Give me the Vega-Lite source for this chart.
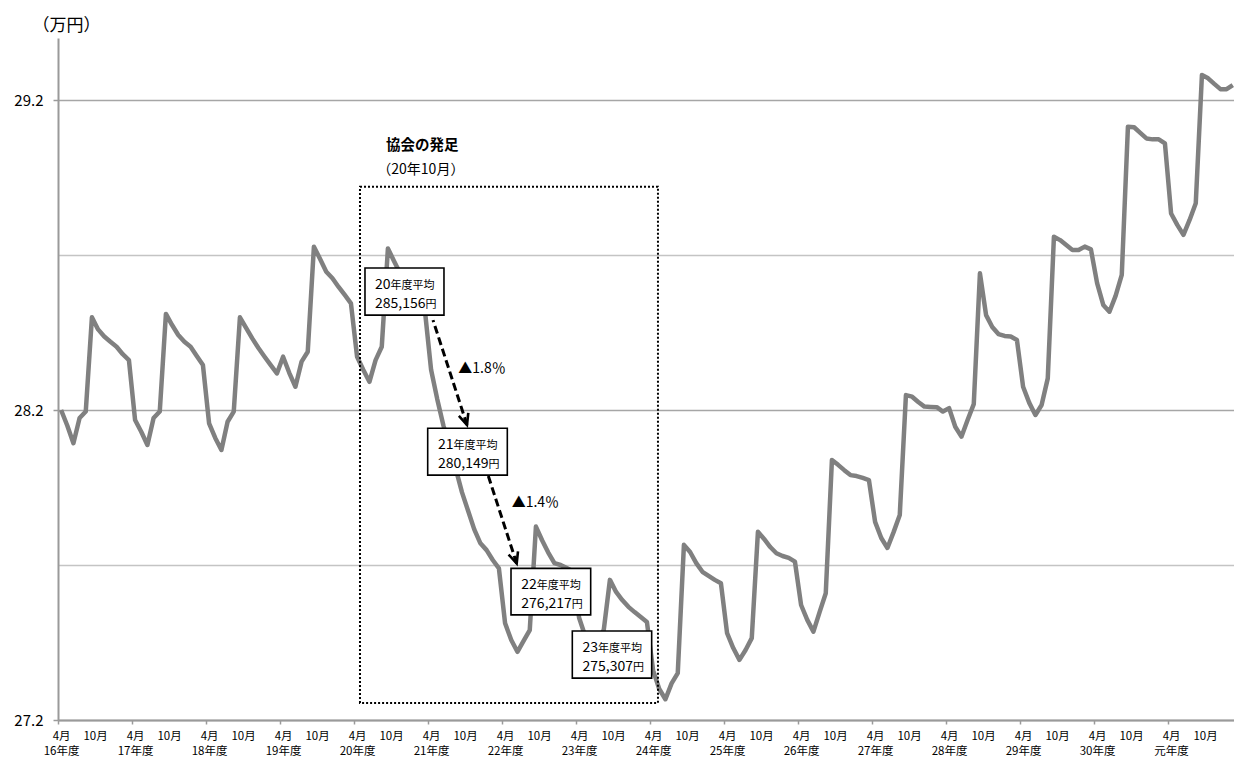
{
  "$schema": "https://vega.github.io/schema/vega-lite/v6.json",
  "width": 1176,
  "height": 682,
  "autosize": {"type": "none"},
  "padding": {"left": 58, "top": 38, "right": 0, "bottom": 41},
  "background": "white",
  "config": {"view": {"stroke": null}, "font": "Noto Sans CJK JP"},
  "datasets": {
    "series": [
      {"month":0,"value":28.200},{"month":1,"value":28.150},{"month":2,"value":28.093},{"month":3,"value":28.174},{"month":4,"value":28.195},{"month":5,"value":28.499},{"month":6,"value":28.460},{"month":7,"value":28.437},{"month":8,"value":28.420},{"month":9,"value":28.404},{"month":10,"value":28.380},{"month":11,"value":28.361},
      {"month":12,"value":28.168},{"month":13,"value":28.130},{"month":14,"value":28.087},{"month":15,"value":28.174},{"month":16,"value":28.195},{"month":17,"value":28.510},{"month":18,"value":28.474},{"month":19,"value":28.442},{"month":20,"value":28.420},{"month":21,"value":28.404},{"month":22,"value":28.374},{"month":23,"value":28.345},
      {"month":24,"value":28.157},{"month":25,"value":28.110},{"month":26,"value":28.071},{"month":27,"value":28.162},{"month":28,"value":28.195},{"month":29,"value":28.499},{"month":30,"value":28.465},{"month":31,"value":28.431},{"month":32,"value":28.400},{"month":33,"value":28.372},{"month":34,"value":28.345},{"month":35,"value":28.318},
      {"month":36,"value":28.372},{"month":37,"value":28.320},{"month":38,"value":28.275},{"month":39,"value":28.356},{"month":40,"value":28.388},{"month":41,"value":28.727},{"month":42,"value":28.687},{"month":43,"value":28.646},{"month":44,"value":28.625},{"month":45,"value":28.597},{"month":46,"value":28.571},{"month":47,"value":28.544},
      {"month":48,"value":28.372},{"month":49,"value":28.330},{"month":50,"value":28.291},{"month":51,"value":28.361},{"month":52,"value":28.404},{"month":53,"value":28.721},{"month":54,"value":28.680},{"month":55,"value":28.640},{"month":56,"value":28.610},{"month":57,"value":28.580},{"month":58,"value":28.550},{"month":59,"value":28.520},
      {"month":60,"value":28.330},{"month":61,"value":28.235},{"month":62,"value":28.150},{"month":63,"value":28.080},{"month":64,"value":28.010},{"month":65,"value":27.935},{"month":66,"value":27.875},{"month":67,"value":27.815},{"month":68,"value":27.770},{"month":69,"value":27.748},{"month":70,"value":27.716},{"month":71,"value":27.689},
      {"month":72,"value":27.512},{"month":73,"value":27.458},{"month":74,"value":27.420},{"month":75,"value":27.455},{"month":76,"value":27.490},{"month":77,"value":27.824},{"month":78,"value":27.780},{"month":79,"value":27.740},{"month":80,"value":27.706},{"month":81,"value":27.700},{"month":82,"value":27.690},{"month":83,"value":27.680},
      {"month":84,"value":27.530},{"month":85,"value":27.470},{"month":86,"value":27.430},{"month":87,"value":27.460},{"month":88,"value":27.490},{"month":89,"value":27.652},{"month":90,"value":27.613},{"month":91,"value":27.587},{"month":92,"value":27.565},{"month":93,"value":27.548},{"month":94,"value":27.532},{"month":95,"value":27.516},
      {"month":96,"value":27.360},{"month":97,"value":27.300},{"month":98,"value":27.267},{"month":99,"value":27.318},{"month":100,"value":27.351},{"month":101,"value":27.765},{"month":102,"value":27.742},{"month":103,"value":27.706},{"month":104,"value":27.678},{"month":105,"value":27.665},{"month":106,"value":27.652},{"month":107,"value":27.641},
      {"month":108,"value":27.480},{"month":109,"value":27.432},{"month":110,"value":27.394},{"month":111,"value":27.426},{"month":112,"value":27.464},{"month":113,"value":27.807},{"month":114,"value":27.784},{"month":115,"value":27.758},{"month":116,"value":27.738},{"month":117,"value":27.729},{"month":118,"value":27.723},{"month":119,"value":27.711},
      {"month":120,"value":27.571},{"month":121,"value":27.523},{"month":122,"value":27.485},{"month":123,"value":27.548},{"month":124,"value":27.609},{"month":125,"value":28.039},{"month":126,"value":28.023},{"month":127,"value":28.006},{"month":128,"value":27.990},{"month":129,"value":27.987},{"month":130,"value":27.981},{"month":131,"value":27.974},
      {"month":132,"value":27.839},{"month":133,"value":27.787},{"month":134,"value":27.755},{"month":135,"value":27.806},{"month":136,"value":27.861},{"month":137,"value":28.248},{"month":138,"value":28.243},{"month":139,"value":28.226},{"month":140,"value":28.211},{"month":141,"value":28.210},{"month":142,"value":28.209},{"month":143,"value":28.195},
      {"month":144,"value":28.206},{"month":145,"value":28.146},{"month":146,"value":28.114},{"month":147,"value":28.168},{"month":148,"value":28.219},{"month":149,"value":28.641},{"month":150,"value":28.506},{"month":151,"value":28.468},{"month":152,"value":28.445},{"month":153,"value":28.439},{"month":154,"value":28.437},{"month":155,"value":28.426},
      {"month":156,"value":28.275},{"month":157,"value":28.223},{"month":158,"value":28.184},{"month":159,"value":28.216},{"month":160,"value":28.302},{"month":161,"value":28.759},{"month":162,"value":28.748},{"month":163,"value":28.732},{"month":164,"value":28.716},{"month":165,"value":28.716},{"month":166,"value":28.727},{"month":167,"value":28.718},
      {"month":168,"value":28.609},{"month":169,"value":28.539},{"month":170,"value":28.517},{"month":171,"value":28.568},{"month":172,"value":28.636},{"month":173,"value":29.114},{"month":174,"value":29.112},{"month":175,"value":29.094},{"month":176,"value":29.076},{"month":177,"value":29.073},{"month":178,"value":29.073},{"month":179,"value":29.060},
      {"month":180,"value":28.834},{"month":181,"value":28.797},{"month":182,"value":28.765},{"month":183,"value":28.813},{"month":184,"value":28.867},{"month":185,"value":29.281},{"month":186,"value":29.270},{"month":187,"value":29.252},{"month":188,"value":29.235},{"month":189,"value":29.235},{"month":190,"value":29.248}
    ],
    "frame": [{"month":48.47,"month2":96.79,"value":28.92,"value2":27.255}],
    "boxes": [
      {"fy":"20","month":49.28,"month2":62.09,"value":28.658,"value2":28.506},
      {"fy":"21","month":59.45,"month2":72.36,"value":28.141,"value2":27.990},
      {"fy":"22","month":72.96,"month2":85.88,"value":27.689,"value2":27.539},
      {"fy":"23","month":82.90,"month2":95.77,"value":27.487,"value2":27.335}
    ],
    "boxtext": [
      {"fy":"20","avg":"285,156","month":55.69,"value":28.582},
      {"fy":"21","avg":"280,149","month":65.90,"value":28.066},
      {"fy":"22","avg":"276,217","month":79.42,"value":27.614},
      {"fy":"23","avg":"275,307","month":89.34,"value":27.411}
    ],
    "arrows": [
      {"month":65.82,"value":28.152,"month2":60.31,"value2":28.490},
      {"month":73.88,"value":27.705,"month2":69.28,"value2":27.987}
    ],
    "notes": [
      {"label":"▲1.8％","month":64.41,"value":28.332},
      {"label":"▲1.4％","month":73.07,"value":27.899}
    ]
  },
  "encoding": {
    "x": {
      "field": "month",
      "type": "quantitative",
      "scale": {"domain": [-0.5, 190.2], "nice": false, "zero": false},
      "axis": {
        "title": null,
        "grid": false,
        "values": [-0.5,0,5.5,11.5,12,17.5,23.5,24,29.5,35.5,36,41.5,47.5,48,53.5,59.5,60,65.5,71.5,72,77.5,83.5,84,89.5,95.5,96,101.5,107.5,108,113.5,119.5,120,125.5,131.5,132,137.5,143.5,144,149.5,155.5,156,161.5,167.5,168,173.5,179.5,180,185.5],
        "labelExpr": "(datum.value + 0.5) % 12 == 0 ? '' : (datum.value % 12 == 0 ? ['4月', (datum.value / 12 + 16 == 31 ? '元' : '' + (datum.value / 12 + 16)) + '年度'] : '10月')",
        "tickOpacity": {"condition": {"test": "(datum.value + 0.5) % 12 == 0", "value": 1}, "value": 0},
        "domainColor": "#9a9a9a",
        "domainWidth": 2,
        "tickColor": "#9a9a9a",
        "tickWidth": 1.5,
        "tickSize": 4,
        "labelFontSize": 11.5,
        "labelColor": "#000000",
        "labelPadding": 6,
        "labelBaseline": "top",
        "labelLineHeight": 15,
        "labelOverlap": false,
        "labelFlush": false,
        "labelBound": false
      }
    },
    "y": {
      "field": "value",
      "type": "quantitative",
      "scale": {"domain": [27.2, 29.4], "nice": false, "zero": false},
      "axis": {
        "values": [27.2, 27.7, 28.2, 28.7, 29.2],
        "format": ".1f",
        "labelExpr": "(abs(datum.value - 27.7) < 0.01 || abs(datum.value - 28.7) < 0.01) ? '' : datum.label",
        "tickOpacity": {"condition": {"test": "abs(datum.value - 27.7) < 0.01 || abs(datum.value - 28.7) < 0.01", "value": 0}, "value": 1},
        "gridColor": {"condition": {"test": "abs(datum.value - 27.7) < 0.01 || abs(datum.value - 28.7) < 0.01", "value": "#c4c4c4"}, "value": "#a6a6a6"},
        "gridWidth": 1.3,
        "domainColor": "#9a9a9a",
        "domainWidth": 2,
        "tickColor": "#9a9a9a",
        "tickSize": 5,
        "tickWidth": 1.5,
        "labelFontSize": 15,
        "labelColor": "#000000",
        "labelPadding": 10,
        "title": "（万円）",
        "titleAngle": 0,
        "titleAlign": "left",
        "titleBaseline": "middle",
        "titleX": -26,
        "titleY": -13,
        "titleFontSize": 17,
        "titleFontWeight": "normal",
        "titleColor": "#000000"
      }
    }
  },
  "layer": [
    {
      "data": {"name": "series"},
      "mark": {"type": "line", "color": "#808080", "strokeWidth": 4.5, "strokeJoin": "round", "clip": true}
    },
    {
      "data": {"name": "frame"},
      "mark": {"type": "rect", "fillOpacity": 0, "stroke": "#000000", "strokeWidth": 2, "strokeDash": [2, 2]},
      "encoding": {"x2": {"field": "month2"}, "y2": {"field": "value2"}}
    },
    {
      "data": {"name": "boxes"},
      "mark": {"type": "rect", "fill": "#ffffff", "stroke": "#000000", "strokeWidth": 1.6},
      "encoding": {"x2": {"field": "month2"}, "y2": {"field": "value2"}}
    },
    {
      "data": {"name": "boxtext"},
      "mark": {"type": "text", "align": "right", "baseline": "alphabetic", "dx": -14, "dy": -3, "fontSize": 14, "color": "#000000"},
      "encoding": {"text": {"field": "fy"}}
    },
    {
      "data": {"name": "boxtext"},
      "mark": {"type": "text", "align": "left", "baseline": "alphabetic", "dx": -14, "dy": -3, "fontSize": 11, "color": "#000000"},
      "encoding": {"text": {"value": "年度平均"}}
    },
    {
      "data": {"name": "boxtext"},
      "mark": {"type": "text", "align": "right", "baseline": "alphabetic", "dx": 21, "dy": 16, "fontSize": 14, "color": "#000000"},
      "encoding": {"text": {"field": "avg"}}
    },
    {
      "data": {"name": "boxtext"},
      "mark": {"type": "text", "align": "left", "baseline": "alphabetic", "dx": 21, "dy": 16, "fontSize": 11, "color": "#000000"},
      "encoding": {"text": {"value": "円"}}
    },
    {
      "data": {"name": "arrows"},
      "mark": {"type": "rule", "color": "#000000", "strokeWidth": 3, "strokeDash": [8, 4]},
      "encoding": {"x2": {"field": "month2"}, "y2": {"field": "value2"}}
    },
    {
      "data": {"name": "arrows"},
      "mark": {"type": "point", "shape": "M -0.45 -1 L 0 0 L 0.45 -1", "size": 484, "angle": 342, "filled": false, "stroke": "#000000", "strokeWidth": 2.6, "opacity": 1}
    },
    {
      "data": {"name": "notes"},
      "mark": {"type": "text", "align": "left", "baseline": "middle", "fontSize": 14, "color": "#000000"},
      "encoding": {"text": {"field": "label"}}
    },
    {
      "data": {"values": [{"label": "協会の発足", "month": 52.69, "value": 29.052}]},
      "mark": {"type": "text", "align": "left", "baseline": "middle", "fontSize": 14.5, "fontWeight": "bold", "color": "#000000"},
      "encoding": {"text": {"field": "label"}}
    },
    {
      "data": {"values": [{"label": "（20年10月）", "month": 51.28, "value": 28.974}]},
      "mark": {"type": "text", "align": "left", "baseline": "middle", "fontSize": 14, "color": "#000000"},
      "encoding": {"text": {"field": "label"}}
    }
  ]
}
